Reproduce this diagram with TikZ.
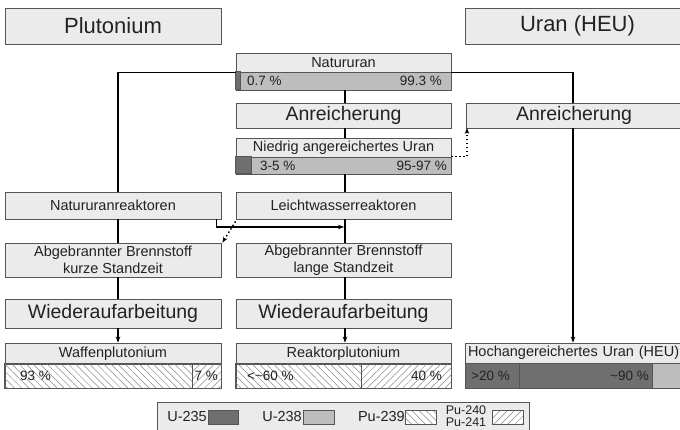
\documentclass[tikz,border=0pt]{standalone}
\usepackage{fontspec}
\setmainfont{Liberation Sans}
\usetikzlibrary{patterns.meta,arrows.meta,calc}
\definecolor{boxfill}{HTML}{EBEBEB}
\definecolor{bd}{HTML}{555555}
\definecolor{ulight}{HTML}{BDBDBD}
\definecolor{udark}{HTML}{6F6F6F}
\definecolor{txt}{HTML}{222222}
\definecolor{hatch}{HTML}{8A8A8A}
\begin{document}
\begin{tikzpicture}[x=1pt,y=-1pt,
  box/.style={draw=bd, fill=boxfill, line width=0.8pt, inner sep=0pt, text=txt},
  bar/.style={draw=bd, line width=0.8pt, inner sep=0pt},
  tfont/.style={font=\fontsize{22}{26}\selectfont},
  sfont/.style={font=\fontsize{19.5}{23}\selectfont},
  lfont/.style={font=\fontsize{14.5}{17}\selectfont},
  pfont/.style={font=\fontsize{13.5}{16}\selectfont, text=txt, inner sep=0pt},
  conn/.style={draw=black, line width=1.4pt},
  dconn/.style={draw=black, line width=1.4pt, dash pattern=on 1.6pt off 2.4pt},
  tip/.style={-{Stealth[length=6pt,width=4.5pt]}},
  hnw/.style={pattern={Lines[angle=-45,distance=5pt,line width=0.5pt]}, pattern color=hatch},
  hne/.style={pattern={Lines[angle=45,distance=5pt,line width=0.5pt]}, pattern color=hatch}]
\useasboundingbox (0,0) rectangle (680,430);
\fill[white] (0,0) rectangle (680,430);
\coordinate (lx) at (118,0);
\coordinate (cx) at (345,0);
\coordinate (rx) at (573,0);

% titles
\node[box,tfont,minimum width=216,minimum height=36] (plu) at (113,26) {Plutonium};
\node[box,tfont,minimum width=225,minimum height=36] (uran) at (577.5,26) {Uran (HEU)};

% Natururan
\node[box,lfont,minimum width=215,minimum height=19] (nat) at (343.5,62.5) {Natururan};
\node[bar,fill=ulight,minimum width=215,minimum height=18] (natbar) at (343.5,81) {};
\filldraw[fill=udark,draw=bd,line width=0.8pt] (natbar.north west) rectangle ++(5,18);
\node[pfont,anchor=west] (natp1) at (247,81) {0.7 \%};
\node[pfont,anchor=east] (natp2) at (442,81) {99.3 \%};

% Anreicherung
\node[box,sfont,minimum width=215,minimum height=25] (anr) at (343.5,115.5) {Anreicherung};
\node[box,sfont,minimum width=216,minimum height=25] (anr2) at (574,115.5) {Anreicherung};

% LEU
\node[box,lfont,minimum width=215,minimum height=19] (leu) at (343.5,147.5) {Niedrig angereichertes Uran};
\node[bar,fill=ulight,minimum width=215,minimum height=17] (leubar) at (343.5,165.5) {};
\filldraw[fill=udark,draw=bd,line width=0.8pt] (leubar.north west) rectangle ++(16,17);
\node[pfont,anchor=west] (leup1) at (260,165.5) {3-5 \%};
\node[pfont,anchor=east] (leup2) at (447,165.5) {95-97 \%};

% reactors
\node[box,lfont,minimum width=216,minimum height=27] (nrr) at (113,205.5) {Natururanreaktoren};
\node[box,lfont,minimum width=215,minimum height=27] (lwr) at (343.5,205.5) {Leichtwasserreaktoren};

% spent fuel
\node[box,lfont,align=center,minimum width=216,minimum height=34] (abk) at (113,260) {Abgebrannter Brennstoff\\kurze Standzeit};
\node[box,lfont,align=center,minimum width=215,minimum height=34] (abl) at (343.5,260) {Abgebrannter Brennstoff\\lange Standzeit};

% reprocessing
\node[box,sfont,minimum width=216,minimum height=29] (wa1) at (113,313.5) {Wiederaufarbeitung};
\node[box,sfont,minimum width=215,minimum height=29] (wa2) at (343.5,313.5) {Wiederaufarbeitung};

% Waffenplutonium
\node[box,lfont,minimum width=216,minimum height=21] (wpu) at (113,353.5) {Waffenplutonium};
\node[bar,fill=white,minimum width=216,minimum height=24] (wpubar) at (113,376) {};
\fill[hnw] (5,364) rectangle (192,388);
\fill[hne] (192,364) rectangle (221,388);
\draw[bd,line width=0.8pt] (192,364) -- (192,388);
\draw[bd,line width=0.8pt] (wpubar.north west) rectangle (wpubar.south east);
\node[pfont,anchor=west] (wpup1) at (20,376) {93 \%};
\node[pfont,anchor=east] (wpup2) at (218,376) {7 \%};

% Reaktorplutonium
\node[box,lfont,minimum width=215,minimum height=21] (rpu) at (343.5,353.5) {Reaktorplutonium};
\node[bar,fill=white,minimum width=215,minimum height=24] (rpubar) at (343.5,376) {};
\fill[hnw] (236,364) rectangle (361,388);
\fill[hne] (361,364) rectangle (451,388);
\draw[bd,line width=0.8pt] (361,364) -- (361,388);
\draw[bd,line width=0.8pt] (rpubar.north west) rectangle (rpubar.south east);
\node[pfont,anchor=west] (rpup1) at (247,376) {<\textasciitilde60 \%};
\node[pfont,anchor=east] (rpup2) at (442,376) {40 \%};

% HEU
\node[box,lfont,minimum width=225,minimum height=20,text width=219,align=left] (heu) at (577.5,353) {Hochangereichertes Uran (HEU)};
\node[bar,fill=ulight,minimum width=225,minimum height=25] (heubar) at (577.5,375.5) {};
\filldraw[fill=udark,draw=bd,line width=0.8pt] (465,363) rectangle (519,388);
\filldraw[fill=udark,draw=bd,line width=0.8pt] (519,363) rectangle (652,388);
\node[pfont,anchor=west] (heup1) at (471,376) {>20 \%};
\node[pfont,anchor=east] (heup2) at (649,376) {\textasciitilde90 \%};

% legend
\node[box,minimum width=372,minimum height=32] (leg) at (343,418) {};
\node[lfont,text=txt,inner sep=0pt,anchor=east] (l1) at (207,417) {U-235};
\filldraw[fill=udark,draw=bd,line width=0.8pt] (208,410) rectangle (238,424);
\node[lfont,text=txt,inner sep=0pt,anchor=east] (l2) at (302,417) {U-238};
\filldraw[fill=ulight,draw=bd,line width=0.8pt] (303,410) rectangle (334,424);
\node[lfont,text=txt,inner sep=0pt,anchor=east] (l3) at (405,417) {Pu-239};
\fill[white] (405,410) rectangle (436,424);
\fill[hnw] (405,410) rectangle (436,424);
\draw[bd,line width=0.8pt] (405,410) rectangle (436,424);
\node[font=\fontsize{12.5}{12}\selectfont,text=txt,inner sep=0pt,align=center] (l4) at (466,416) {Pu-240\\Pu-241};
\fill[white] (492,410) rectangle (523,424);
\fill[hne] (492,410) rectangle (523,424);
\draw[bd,line width=0.8pt] (492,410) rectangle (523,424);

% connectors: left path
\draw[conn] (nat.south west) -| (nrr.north -| lx);
\draw[conn] (nrr.south -| lx) -- (abk.north -| lx);
\draw[conn] (abk.south -| lx) -- (wa1.north -| lx);
\draw[conn,tip] (wa1.south -| lx) -- (wpu.north -| lx);
% right path
\draw[conn] (nat.south east) -| (anr2.north -| rx);
\draw[conn,tip] (anr2.south -| rx) -- (heu.north -| rx);
% centre path
\draw[conn] (natbar.south -| cx) -- (anr.north -| cx);
\draw[conn] (anr.south -| cx) -- (leu.north -| cx);
\draw[conn] (leubar.south -| cx) -- (lwr.north -| cx);
\draw[conn] (lwr.south -| cx) -- (abl.north -| cx);
\draw[conn] (abl.south -| cx) -- (wa2.north -| cx);
\draw[conn,tip] (wa2.south -| cx) -- (rpu.north -| cx);
% cross connections
\coordinate (j) at (344,227);
\draw[conn,tip] ([xshift=-5pt]nrr.south east) |- (j);
\coordinate (d1) at (467,128);
\draw[dconn,tip] (leubar.north east) -| (d1);
\draw[dconn,tip] ([yshift=-2pt]lwr.south west) -- ([xshift=1pt]abk.north east);
\end{tikzpicture}
\end{document}
